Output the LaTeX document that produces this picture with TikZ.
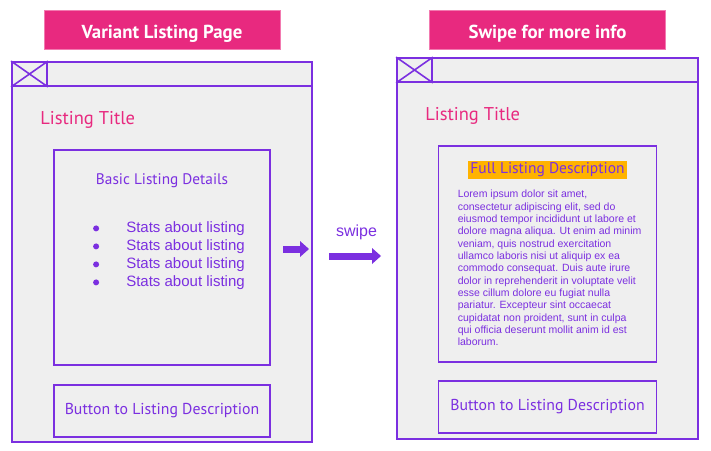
\documentclass[tikz,border=0pt]{standalone}
\usepackage{fontspec}
\setmainfont{PT Sans}
\newfontfamily\arialfont{Liberation Sans}
\usetikzlibrary{positioning,arrows.meta,calc}
\definecolor{wire}{HTML}{7B2FE0}
\definecolor{hotpink}{HTML}{E8297F}
\definecolor{softpink}{HTML}{F27AB0}
\definecolor{panel}{HTML}{EFEFEF}
\definecolor{amber}{HTML}{FFB300}
\newcommand{\lowered}[1]{\raisebox{-4.3pt}[\height][\depth]{#1}}
\tikzset{
    pagetitle/.style={
        draw=softpink,
        fill=hotpink,
        line width=0.6pt,
        minimum width=236pt,
        minimum height=39pt,
        inner sep=0pt,
        text=white,
        font=\fontsize{18.8}{20}\selectfont\bfseries
    },
    phone/.style={
        draw=wire,
        fill=panel,
        line width=1.8pt,
        minimum width=300pt,
        minimum height=380pt,
        inner sep=0pt
    },
    headbar/.style={
        draw=wire,
        line width=1.8pt,
        minimum width=300pt,
        minimum height=24pt,
        inner sep=0pt
    },
    crossbox/.style={
        draw=wire,
        line width=1.8pt,
        minimum width=35pt,
        minimum height=24pt,
        inner sep=0pt
    },
    crossline/.style={
        draw=wire,
        line width=1.6pt
    },
    panelbox/.style={
        draw=wire,
        line width=1.8pt,
        minimum width=216pt,
        inner sep=0pt
    },
    listtitle/.style={
        text=hotpink,
        font=\fontsize{18.5}{20}\selectfont,
        inner sep=0pt,
        anchor=west
    },
    boxlabel/.style={
        text=wire,
        font=\fontsize{15.3}{17}\selectfont,
        inner sep=0pt
    },
    buttonlabel/.style={
        text=wire,
        font=\fontsize{15.8}{17}\selectfont
    },
    stat/.style={
        text=wire,
        font=\arialfont\fontsize{15}{17}\selectfont,
        inner sep=0pt,
        anchor=west
    },
    bullet/.style={
        circle,
        fill=wire,
        inner sep=0pt,
        minimum size=6pt
    },
    lorem/.style={
        text=wire,
        font=\arialfont\fontsize{10.5}{12.33}\selectfont,
        align=left,
        inner sep=0pt,
        anchor=north west
    },
    blockarrow/.style={
        draw=wire,
        line width=7pt,
        -{Triangle[length=9pt, width=16pt, line width=0pt]}
    }
}

\begin{document}
\begin{tikzpicture}[x=1pt, y=-1pt, node distance=12pt]
    \useasboundingbox (0,0) rectangle (711,450);

    % left page
    \node[phone] (phoneL) at (162,252) {};
    \node[headbar, anchor=north] (barL) at (phoneL.north) {};
    \node[crossbox, anchor=north west] (xL) at (phoneL.north west) {};
    \draw[crossline] (xL.north west) -- (xL.south east) (xL.south west) -- (xL.north east);
    \node[pagetitle, above=12pt of phoneL] (titleL) {\lowered{Variant Listing Page}};
    \node[listtitle] (nameL) at ($(phoneL.north west)+(29,59)$) {Listing Title};
    \node[panelbox, minimum height=215pt, below=62pt of barL] (detailsL) {};
    \node[boxlabel] (detailsLhead) at ($(detailsL.north)+(0,32)$) {Basic Listing Details};
    \foreach \i in {0,...,3} {
        \node[bullet] (dot\i) at ($(detailsL.north west)+(43,79.5+18*\i)$) {};
        \node[stat] (stat\i) at ($(detailsL.north west)+(73,80+18*\i)$) {Stats about listing};
    }
    \node[panelbox, buttonlabel, minimum height=52pt, below=18pt of detailsL] (buttonL) {Button to Listing Description};
    \coordinate (nudgeA) at (283,249);
    \coordinate (nudgeB) at (309,249);
    \draw[blockarrow] (nudgeA) -- (nudgeB);

    % swipe
    \node[text=wire, font=\arialfont\fontsize{16}{18}\selectfont, inner sep=0pt] (swipeword) at (356.5,232.5) {swipe};
    \coordinate (swipeA) at (329,256);
    \coordinate (swipeB) at (381,256);
    \draw[blockarrow] (swipeA) -- (swipeB);

    % right page
    \node[phone, minimum width=301pt, minimum height=381pt] (phoneR) at (547.5,248.5) {};
    \node[headbar, minimum width=301pt, anchor=north] (barR) at (phoneR.north) {};
    \node[crossbox, anchor=north west] (xR) at (phoneR.north west) {};
    \draw[crossline] (xR.north west) -- (xR.south east) (xR.south west) -- (xR.north east);
    \node[pagetitle, above=8pt of phoneR] (titleR) {\lowered{Swipe for more info}};
    \node[listtitle] (nameR) at ($(phoneR.north west)+(29,59)$) {Listing Title};
    \node[panelbox, minimum width=218pt, minimum height=216pt, below=62pt of barR] (descR) {};
    \node[boxlabel, fill=amber, inner sep=2pt, font=\fontsize{15.5}{18}\selectfont] (descRhead) at ($(descR.north)+(0,25)$) {Full Listing Description};
    \node[lorem] (loremR) at ($(descR.north west)+(20,45)$) {Lorem ipsum dolor sit amet,\\
        consectetur adipiscing elit, sed do\\
        eiusmod tempor incididunt ut labore et\\
        dolore magna aliqua. Ut enim ad minim\\
        veniam, quis nostrud exercitation\\
        ullamco laboris nisi ut aliquip ex ea\\
        commodo consequat. Duis aute irure\\
        dolor in reprehenderit in voluptate velit\\
        esse cillum dolore eu fugiat nulla\\
        pariatur. Excepteur sint occaecat\\
        cupidatat non proident, sunt in culpa\\
        qui officia deserunt mollit anim id est\\
        laborum.};
    \node[panelbox, buttonlabel, minimum width=218pt, minimum height=52pt, below=17pt of descR] (buttonR) {Button to Listing Description};
\end{tikzpicture}
\end{document}
